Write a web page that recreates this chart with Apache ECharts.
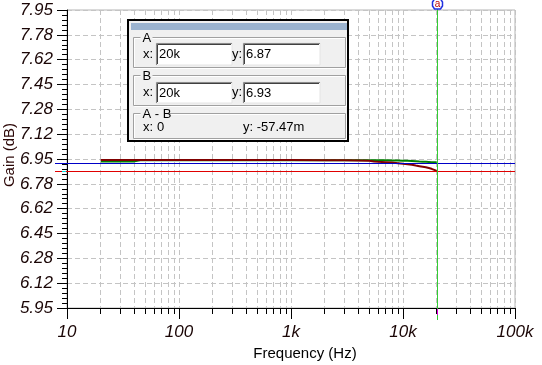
<!DOCTYPE html>
<html><head><meta charset="utf-8">
<script src="https://cdn.jsdelivr.net/npm/echarts@6/dist/echarts.min.js"></script>
<style>html,body{margin:0;padding:0;background:#fff}#c{width:542px;height:365px}</style>
</head><body><div id="c"></div>
<script>
// ---- data ----
const freqHz = [20, 30, 40, 45, 50, 70, 100, 200, 500, 1000, 2000, 3000, 4000, 5000, 5500, 6000, 7000, 8000, 9000, 10000, 11000, 12000, 13000, 14000, 15000, 16000, 17000, 18000, 19000, 20000];
const gainRed = [6.943, 6.943, 6.943, 6.943, 6.943, 6.943, 6.943, 6.943, 6.943, 6.944, 6.941, 6.941, 6.940, 6.938, 6.934, 6.931, 6.929, 6.926, 6.922, 6.918, 6.915, 6.911, 6.906, 6.902, 6.898, 6.894, 6.889, 6.884, 6.877, 6.870];
const gainGreen = [6.934, 6.934, 6.934, 6.941, 6.942, 6.942, 6.942, 6.942, 6.942, 6.942, 6.942, 6.942, 6.942, 6.942, 6.941, 6.941, 6.941, 6.940, 6.940, 6.939, 6.938, 6.937, 6.935, 6.933, 6.932, 6.931, 6.930, 6.929, 6.928, 6.928];
const xTickValues = [10, 100, 1000, 10000, 100000];
const xTickLabels = ['10', '100', '1k', '10k', '100k'];
const yTickLabels = ['5.95', '6.12', '6.28', '6.45', '6.62', '6.78', '6.95', '7.12', '7.28', '7.45', '7.62', '7.78', '7.95'];
const yMin = 5.95, yMax = 7.95;
const cursorX = 20000;          // vertical cursor position
const cursorAy = 6.867;         // red horizontal cursor (A)
const cursorBy = 6.922;         // blue horizontal cursor (B)
const panelA = { x: '20k', y: '6.87' };
const panelB = { x: '20k', y: '6.93' };
const panelAB = { x: '0', y: '-57.47m' };

// ---- derived tick positions ----
const xMinor = [];
for (let d = 10; d < 100000; d *= 10) for (let k = 2; k <= 9; k++) xMinor.push(k * d);
const yStep = (yMax - yMin) / (yTickLabels.length - 1);
const yMajor = yTickLabels.map((_, i) => Math.round((yMin + i * yStep) * 1e6) / 1e6);
const yMinor = [];
for (let i = 0; i < yTickLabels.length - 1; i++) for (let j = 1; j < 5; j++) yMinor.push(Math.round((yMin + i * yStep + j * yStep / 5) * 1e6) / 1e6);

const FONT = "'Liberation Sans', Arial, sans-serif";
const dash = { type: [5, 3], color: '#c4c4c4', width: 1 };
const labelStyle = { fontFamily: FONT, fontStyle: 'italic', fontSize: 17, color: '#1a0505' };

const chart = echarts.init(document.getElementById('c'), null, { renderer: 'canvas' });
chart.setOption({
  animation: false,
  backgroundColor: '#fff',
  grid: { left: 67, right: 27, top: 10, bottom: 57, show: true, borderColor: '#b4b4b4', borderWidth: 1, backgroundColor: '#fff', containLabel: false, outerBoundsMode: 'none' },
  xAxis: [{
    type: 'log', logBase: 10, min: 10, max: 100000, position: 'bottom',
    axisLine: { show: true, onZero: false, lineStyle: { color: '#000', width: 1 } },
    axisTick: { show: true, length: 11, customValues: xTickValues, lineStyle: { color: '#000' } },
    axisLabel: Object.assign({ customValues: xTickValues, margin: 16, formatter: v => { const i = xTickValues.findIndex(t => Math.abs(Math.log10(t) - Math.log10(v)) < 1e-6); return i >= 0 ? xTickLabels[i] : ''; } }, labelStyle),
    splitLine: { show: true, lineStyle: dash },
    minorTick: { show: false }, minorSplitLine: { show: false }
  }, {
    type: 'log', logBase: 10, min: 10, max: 100000, position: 'bottom',
    axisLine: { show: false, onZero: false },
    axisTick: { show: true, length: 6, customValues: xMinor, lineStyle: { color: '#000' } },
    axisLabel: { show: false },
    splitLine: { show: true, lineStyle: dash }
  }],
  yAxis: [{
    type: 'value', min: yMin, max: yMax, position: 'left',
    axisLine: { show: true, onZero: false, lineStyle: { color: '#000', width: 1 } },
    axisTick: { show: true, length: 10, customValues: yMajor, lineStyle: { color: '#000' } },
    axisLabel: Object.assign({ customValues: yMajor, margin: 14, formatter: v => { let b = 0; yMajor.forEach((t, i) => { if (Math.abs(t - v) < Math.abs(yMajor[b] - v)) b = i; }); return yTickLabels[b]; } }, labelStyle),
    splitLine: { show: true, lineStyle: dash }
  }, {
    type: 'value', min: yMin, max: yMax, position: 'left',
    axisLine: { show: false, onZero: false },
    axisTick: { show: true, length: 5, customValues: yMinor, lineStyle: { color: '#000' } },
    axisLabel: { show: false },
    splitLine: { show: false }
  }],
  series: [{
    type: 'line', xAxisIndex: 0, yAxisIndex: 0, showSymbol: false, symbol: 'none',
    data: freqHz.map((f, i) => [f, gainGreen[i]]),
    lineStyle: { color: '#008000', width: 2 }, z: 3
  }, {
    type: 'line', xAxisIndex: 0, yAxisIndex: 0, showSymbol: false, symbol: 'none',
    data: freqHz.map((f, i) => [f, gainRed[i]]),
    lineStyle: { color: '#800000', width: 2 }, z: 4
  }]
});

// cursor lines & overlays positioned through the axis scales
const cx = Math.round(chart.convertToPixel({ xAxisIndex: 0 }, cursorX)) + 0.5;
const yA = Math.round(chart.convertToPixel({ yAxisIndex: 0 }, cursorAy)) + 0.5;
const yB = Math.round(chart.convertToPixel({ yAxisIndex: 0 }, cursorBy)) + 0.5;
const xRight = Math.round(chart.convertToPixel({ xAxisIndex: 0 }, 100000));
const yBottom = Math.round(chart.convertToPixel({ yAxisIndex: 0 }, yMin));
const xLeft = Math.round(chart.convertToPixel({ xAxisIndex: 0 }, 10));

function txt(x, y, s, extra) {
  return { type: 'text', z: 110, style: Object.assign({ x: x, y: y, text: s, fontFamily: FONT, fontSize: 13, fill: '#000', verticalAlign: 'middle', align: 'left' }, extra || {}) };
}
function inputBox(x, y, w, h, value) {
  return [
    { type: 'rect', z: 105, shape: { x: x, y: y, width: w, height: h }, style: { fill: '#fff', stroke: '#e4e4e4', lineWidth: 1 } },
    { type: 'polyline', z: 106, shape: { points: [[x + 0.5, y + h], [x + 0.5, y + 0.5], [x + w, y + 0.5]] }, style: { stroke: '#8a8a8a', lineWidth: 1, fill: null } },
    { type: 'polyline', z: 106, shape: { points: [[x + 1.5, y + h - 1], [x + 1.5, y + 1.5], [x + w - 1, y + 1.5]] }, style: { stroke: '#404040', lineWidth: 1, fill: null } },
    txt(x + 3, y + h / 2 + 0.5, value)
  ];
}
function groupBox(x, y, w, h, label, lw) {
  return [
    { type: 'rect', z: 102, shape: { x: x + 1, y: y + 1, width: w, height: h }, style: { fill: null, stroke: '#ffffff', lineWidth: 1 } },
    { type: 'rect', z: 103, shape: { x: x, y: y, width: w, height: h }, style: { fill: null, stroke: '#a0a0a0', lineWidth: 1 } },
    { type: 'rect', z: 104, shape: { x: x + 7, y: y - 3, width: lw, height: 6 }, style: { fill: '#f0f0f0' } },
    txt(x + 9, y + 0.5, label)
  ];
}

const graphics = [
  // horizontal cursors
  { type: 'line', z: 50, shape: { x1: 55, y1: yB, x2: xRight, y2: yB }, style: { stroke: '#0000c8', lineWidth: 1 } },
  { type: 'line', z: 50, shape: { x1: 55, y1: yA, x2: xRight, y2: yA }, style: { stroke: '#e00000', lineWidth: 1 } },
  { type: 'line', z: 51, shape: { x1: xLeft - 5, y1: yA, x2: xLeft - 1, y2: yA }, style: { stroke: '#00e0e0', lineWidth: 1 } },
  // vertical cursor
  { type: 'line', z: 50, shape: { x1: cx, y1: 6, x2: cx, y2: yBottom + 12 }, style: { stroke: '#33cc33', lineWidth: 1 } },
  { type: 'line', z: 51, shape: { x1: cx, y1: yBottom + 1, x2: cx, y2: yBottom + 7 }, style: { stroke: '#e000e0', lineWidth: 1 } },
  // cursor flag
  { type: 'polygon', z: 60, shape: { points: [[cx - 3, -1], [cx + 3, -1], [cx + 5, 2], [cx + 5, 6], [cx + 3, 9], [cx - 3, 9], [cx - 5, 6], [cx - 5, 2]] }, style: { fill: '#fff', stroke: '#2030e0', lineWidth: 1.5 } },
  { type: 'text', z: 61, style: { x: cx, y: 4, text: 'a', align: 'center', verticalAlign: 'middle', fontFamily: FONT, fontSize: 10, fill: '#c00000' } },
  // panel
  { type: 'rect', z: 100, shape: { x: 128, y: 20, width: 220, height: 121 }, style: { fill: '#f0f0f0', stroke: '#000', lineWidth: 2 } },
  { type: 'rect', z: 101, shape: { x: 131, y: 23, width: 216, height: 7 }, style: { fill: '#9bb3cf' } },
].concat(
  groupBox(133.5, 37.5, 212, 30, 'A', 12),
  groupBox(133.5, 75.5, 212, 30, 'B', 12),
  groupBox(133.5, 113.5, 212, 25, 'A - B', 28),
  [txt(143, 54.5, 'x:'), txt(232, 54.5, 'y:')],
  inputBox(156, 43, 76, 22, panelA.x),
  inputBox(243, 43, 77, 22, panelA.y),
  [txt(143, 92.5, 'x:'), txt(232, 92.5, 'y:')],
  inputBox(156, 82, 76, 21, panelB.x),
  inputBox(243, 82, 77, 21, panelB.y),
  [txt(143, 127, 'x:'), txt(157, 127, panelAB.x), txt(243, 127, 'y: ' + panelAB.y)],
  [
    { type: 'text', z: 20, style: { x: 305, y: 354, text: 'Frequency (Hz)', align: 'center', verticalAlign: 'middle', fontFamily: FONT, fontSize: 15, fill: '#000' } },
    { type: 'text', z: 20, x: 10, y: 155, rotation: Math.PI / 2, style: { x: 0, y: 0, text: 'Gain (dB)', align: 'center', verticalAlign: 'middle', fontFamily: FONT, fontSize: 15, fill: '#2a0505' } }
  ]
);
chart.setOption({ graphic: graphics });
</script>
</body></html>
